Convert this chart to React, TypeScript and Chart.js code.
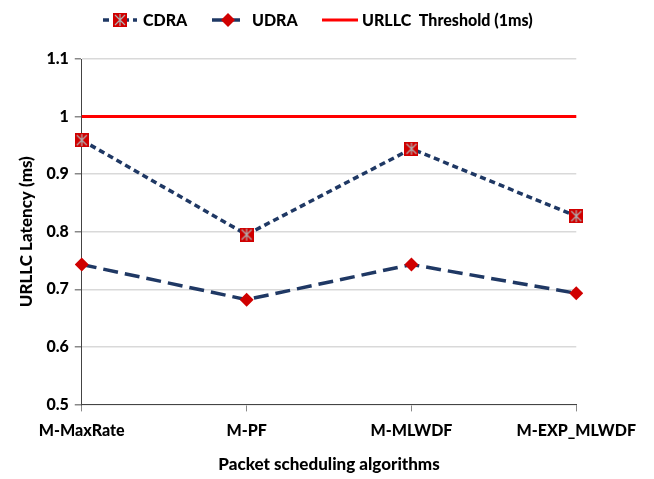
import React, { useEffect, useRef } from "react";
import { Chart, registerables } from "chart.js";

Chart.register(...registerables);

const categories = ["M-MaxRate", "M-PF", "M-MLWDF", "M-EXP_MLWDF"];
const cdraValues = [0.959, 0.795, 0.944, 0.827];
const udraValues = [0.743, 0.682, 0.743, 0.693];
const thresholdValues = [1, 1, 1, 1];
const yTicks = [0.5, 0.6, 0.7, 0.8, 0.9, 1, 1.1];
const legendLabels = ["CDRA", "UDRA", "URLLC  Threshold (1ms)"];

const FONT = "Lato, 'Open Sans', sans-serif";
const NAVY = "#1F3864";
const RED = "#FF0000";
const MARK_RED = "#D00000";

function makeCdraMarker(): HTMLCanvasElement {
  const c = document.createElement("canvas");
  c.width = 14;
  c.height = 14;
  const ctx = c.getContext("2d")!;
  ctx.fillStyle = MARK_RED;
  ctx.fillRect(0, 0, 14, 14);
  ctx.strokeStyle = "#B0B0B0";
  ctx.lineWidth = 1.2;
  ctx.beginPath();
  ctx.moveTo(2, 2);
  ctx.lineTo(12, 12);
  ctx.moveTo(12, 2);
  ctx.lineTo(2, 12);
  ctx.moveTo(7, 1);
  ctx.lineTo(7, 13);
  ctx.stroke();
  return c;
}

export default function App() {
  const ref = useRef<HTMLCanvasElement | null>(null);

  useEffect(() => {
    if (!ref.current) return;
    const cdraMarker = makeCdraMarker();

    const legendPlugin = {
      id: "customLegend",
      afterDraw(chart: any) {
        const ctx = chart.ctx as CanvasRenderingContext2D;
        const y = 12;
        ctx.save();
        ctx.font = `900 16px ${FONT}`;
        ctx.textBaseline = "middle";
        ctx.fillStyle = "#000";
        // CDRA
        ctx.strokeStyle = NAVY;
        ctx.lineWidth = 3.5;
        ctx.setLineDash([6, 4]);
        ctx.beginPath();
        ctx.moveTo(95, y);
        ctx.lineTo(129, y);
        ctx.stroke();
        ctx.drawImage(cdraMarker, 105, y - 7);
        ctx.fillText(legendLabels[0], 135, y + 1);
        // UDRA
        ctx.setLineDash([]);
        ctx.beginPath();
        ctx.moveTo(204, y);
        ctx.lineTo(232, y);
        ctx.stroke();
        ctx.fillStyle = MARK_RED;
        ctx.beginPath();
        ctx.moveTo(220, y - 7);
        ctx.lineTo(227, y);
        ctx.lineTo(220, y + 7);
        ctx.lineTo(213, y);
        ctx.closePath();
        ctx.fill();
        ctx.fillStyle = "#000";
        ctx.fillText(legendLabels[1], 244, y + 1);
        // Threshold
        ctx.strokeStyle = RED;
        ctx.lineWidth = 3;
        ctx.beginPath();
        ctx.moveTo(314, y);
        ctx.lineTo(350, y);
        ctx.stroke();
        ctx.fillText(legendLabels[2], 354, y + 1);
        ctx.restore();
      },
    };

    const chart = new Chart(ref.current, {
      type: "line",
      data: {
        labels: categories,
        datasets: [
          {
            label: "URLLC Threshold (1ms)",
            data: thresholdValues,
            borderColor: RED,
            borderWidth: 3,
            pointRadius: 0,
            order: 3,
          },
          {
            label: "UDRA",
            data: udraValues,
            borderColor: NAVY,
            borderWidth: 3.5,
            borderDash: [15, 7],
            pointStyle: "rectRot",
            pointRadius: 7,
            pointBackgroundColor: MARK_RED,
            pointBorderColor: MARK_RED,
            pointBorderWidth: 0,
            order: 2,
          },
          {
            label: "CDRA",
            data: cdraValues,
            borderColor: NAVY,
            borderWidth: 3.5,
            borderDash: [6, 4],
            pointStyle: cdraMarker as any,
            pointRadius: 7,
            order: 1,
          },
        ],
      },
      options: {
        animation: false,
        responsive: false,
        layout: { padding: { top: 51, right: 68, left: 4, bottom: 0 } },
        plugins: {
          legend: { display: false },
          tooltip: { enabled: false },
        },
        scales: {
          x: {
            offset: false,
            grid: {
              display: true,
              drawOnChartArea: false,
              tickLength: 7,
              color: "#888",
            },
            border: { color: "#444", width: 1 },
            ticks: {
              color: "#000",
              font: { family: FONT, size: 16, weight: "900" },
              padding: 10,
              maxRotation: 0,
            },
            title: {
              display: true,
              text: "Packet scheduling algorithms",
              color: "#000",
              font: { family: FONT, size: 17, weight: "900" },
              padding: { top: 4 },
            },
          },
          y: {
            min: 0.5,
            max: 1.1,
            afterBuildTicks: (axis: any) => {
              axis.ticks = yTicks.map((v) => ({ value: v }));
            },
            grid: {
              color: "#D9D9D9",
              tickColor: "#888",
              tickLength: 7,
              lineWidth: 1.5,
            },
            border: { color: "#444", width: 1 },
            ticks: {
              color: "#000",
              font: { family: FONT, size: 16, weight: "900" },
              padding: 6,
              callback: (v: any) => String(Number(v)),
            },
            title: {
              display: true,
              text: "URLLC Latency (ms)",
              color: "#000",
              font: { family: FONT, size: 17, weight: "900" },
              padding: { bottom: 4 },
            },
          },
        },
      },
      plugins: [legendPlugin],
    });
    return () => chart.destroy();
  }, []);

  return (
    <div style={{ width: 638, height: 471 }}>
      <canvas ref={ref} width={638} height={471} style={{ display: "block" }} />
    </div>
  );
}
